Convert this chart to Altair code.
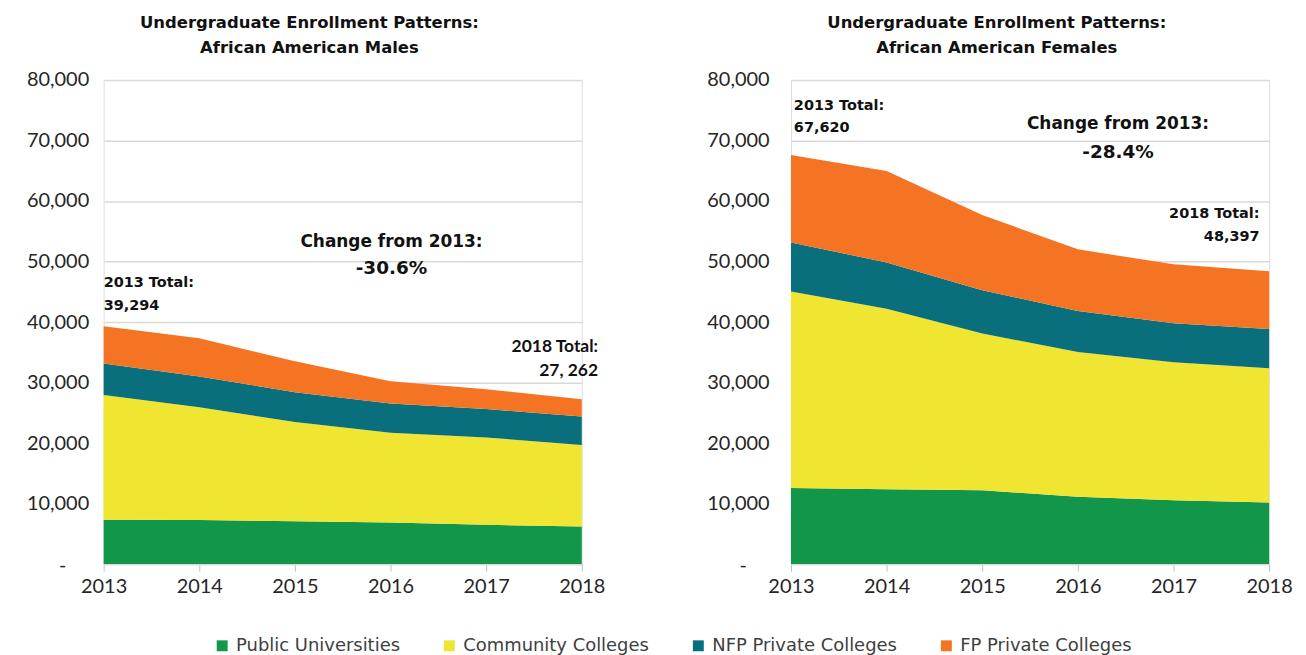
import altair as alt
import pandas as pd

years = [2013, 2014, 2015, 2016, 2017, 2018]
sectors = ["Public Universities", "Community Colleges", "NFP Private Colleges", "FP Private Colleges"]
colors = ["#12964A", "#F0E531", "#0A6F7C", "#F47424"]

male_public = [7340, 7270, 7080, 6890, 6510, 6200]
male_cc = [20620, 18660, 16390, 14810, 14430, 13470]
male_nfp = [5180, 5060, 4930, 4860, 4680, 4740]
male_fp = [6154, 6330, 5120, 3670, 3280, 2852]

female_public = [12580, 12390, 12200, 11120, 10550, 10170]
female_cc = [32480, 29820, 25900, 23950, 22810, 22180]
female_nfp = [8080, 7650, 7150, 6760, 6450, 6510]
female_fp = [14480, 15100, 12440, 10180, 9730, 9537]

y_ticks = [0, 10000, 20000, 30000, 40000, 50000, 60000, 70000, 80000]

male_title = ["Undergraduate Enrollment Patterns:", "African American Males"]
female_title = ["Undergraduate Enrollment Patterns:", "African American Females"]

# annotation texts
male_left_text = ["2013 Total:", "39,294"]
male_mid_text = ["Change from 2013:", "-30.6%"]
male_right_text = ["2018 Total:", "27, 262"]
female_left_text = ["2013 Total:", "67,620"]
female_mid_text = ["Change from 2013:", "-28.4%"]
female_right_text = ["2018 Total:", "48,397"]

# annotation anchor positions (data space)
male_left_pos = [(2013.0, 46400), (2013.0, 42600)]
male_mid_pos = [(2016.01, 53200), (2016.01, 48900)]
male_right_pos = [(2018.17, 35800), (2018.17, 31900)]
female_left_pos = [(2013.03, 75700), (2013.03, 72100)]
female_mid_pos = [(2016.42, 72700), (2016.42, 68100)]
female_right_pos = [(2017.9, 57900), (2017.9, 54000)]

FONT_AX = "Lato"
FONT_CAL = "Lato"
FONT_WIDE = "DejaVu Sans"


def build_df(series):
    rows = []
    for i, (name, vals) in enumerate(zip(sectors, series)):
        for yr, v in zip(years, vals):
            rows.append({"year": yr, "value": v, "sector": name, "order": i})
    return pd.DataFrame(rows)


def ann_df(texts, pos, sizes):
    return pd.DataFrame({"x": [p[0] for p in pos], "y": [p[1] for p in pos],
                         "text": texts, "fs": sizes})


def panel(series, title, left, lpos, mid, mpos, right, rpos, label_pad, right_font, right_size):
    df = build_df(series)
    base_x = alt.X("year:Q", scale=alt.Scale(domain=[2013, 2018], nice=False, zero=False),
                   axis=alt.Axis(values=years, format="d", title=None, grid=False,
                                 ticks=True, tickColor="#bfbfbf", tickSize=7,
                                 domain=True, domainColor="#d9d9d9", domainWidth=1.5,
                                 labelFontSize=20, labelColor="#262626", labelPadding=5,
                                 labelFont=FONT_AX, labelFlush=False))
    base_y = alt.Y("value:Q", stack="zero", scale=alt.Scale(domain=[0, 80000], nice=False),
                   axis=alt.Axis(values=y_ticks, title=None, grid=True, gridColor="#d9d9d9",
                                 gridWidth=1.5, domain=False, ticks=False,
                                 labelFontSize=20, labelColor="#262626", labelFont=FONT_AX,
                                 labelPadding=label_pad, minExtent=90, maxExtent=90,
                                 labelExpr="datum.value == 0 ? '' : format(datum.value, ',')"))
    area = alt.Chart(df).mark_area(opacity=1).encode(
        x=base_x,
        y=base_y,
        color=alt.Color("sector:N", scale=alt.Scale(domain=sectors, range=colors),
                        legend=alt.Legend(title=None, orient="none", direction="horizontal",
                                          legendX=110, legendY=559,
                                          symbolType="square", symbolSize=120,
                                          labelFontSize=18, labelColor="#404040",
                                          labelFont=FONT_WIDE, columnPadding=40,
                                          labelLimit=400, labelOffset=5,
                                          symbolStrokeWidth=0)),
        order=alt.Order("order:Q"),
    )

    zero_label = alt.Chart(pd.DataFrame({"y": [y_ticks[0]], "text": ["-"]})).mark_text(
        align="center", baseline="middle", fontSize=20, font=FONT_AX, color="#262626", dy=2
    ).encode(x=alt.value(-41 - (label_pad - 15)), y="y:Q", text="text:N")

    def txt(texts, pos, sizes, align, font):
        return alt.Chart(ann_df(texts, pos, sizes)).mark_text(
            align=align, baseline="middle", fontWeight="bold", font=font, color="#111111"
        ).encode(x="x:Q", y="y:Q", text="text:N",
                 size=alt.Size("fs:Q", scale=None, legend=None))

    layers = [area, zero_label,
              txt(left, lpos, [14.5, 14.5], "left", FONT_WIDE),
              txt(mid, mpos, [17, 18.5], "center", FONT_WIDE),
              txt(right, rpos, [right_size, right_size], "right", right_font)]
    return alt.layer(*layers).properties(
        width=480, height=486,
        title=alt.TitleParams(title, anchor="middle", frame="bounds", fontSize=16.5,
                              font=FONT_WIDE, fontWeight="bold", color="#111111",
                              lineHeight=25, offset=14),
    )


left_chart = panel([male_public, male_cc, male_nfp, male_fp], male_title,
                   male_left_text, male_left_pos, male_mid_text, male_mid_pos,
                   male_right_text, male_right_pos, 15, FONT_CAL, 17.5)
right_chart = panel([female_public, female_cc, female_nfp, female_fp], female_title,
                    female_left_text, female_left_pos, female_mid_text, female_mid_pos,
                    female_right_text, female_right_pos, 22, FONT_WIDE, 14.5)

chart = alt.hconcat(left_chart, right_chart, spacing=95).configure_view(stroke=None).configure(
    background="white")

chart.save("out.html", embed_options={"renderer": "svg", "actions": False})
